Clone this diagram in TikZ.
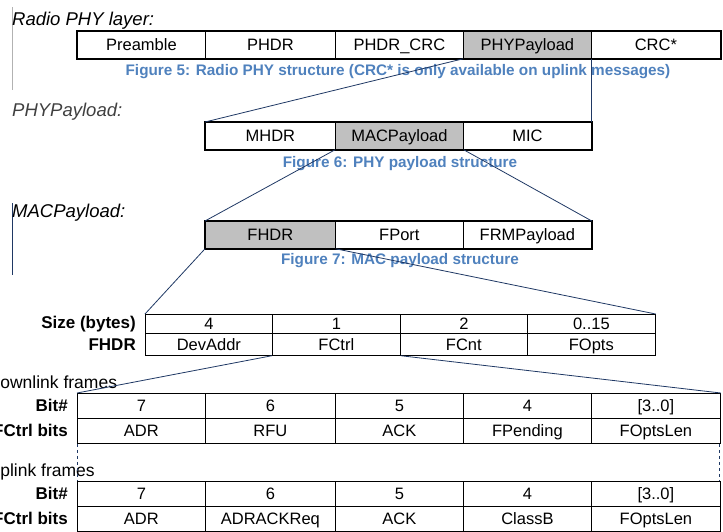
\documentclass[tikz,border=0pt]{standalone}
\usepackage{fontspec}
\setmainfont{Liberation Sans}
\definecolor{cellgray}{RGB}{192,192,192}
\definecolor{capblue}{RGB}{79,129,189}
\definecolor{connblue}{RGB}{31,56,100}
\begin{document}
\begin{tikzpicture}[x=1pt,y=-1pt,
  cellA/.style={draw=black, line width=0.8pt, inner sep=0pt, anchor=north west, minimum height=27pt, text height=11.8pt, text depth=0pt, font=\fontsize{16.5}{16.5}\selectfont},
  cellB/.style={draw=black, line width=0.7pt, inner sep=0pt, anchor=north west, text height=11.8pt, text depth=0pt, font=\fontsize{16.5}{16.5}\selectfont},
  shaded/.style={fill=cellgray},
  outer/.style={draw=black, line width=2.4pt},
  caption/.style={text=capblue, text height=11pt, text depth=0pt, font=\bfseries\fontsize{15.3}{15.3}\selectfont, inner sep=0pt},
  layerlabel/.style={font=\itshape\fontsize{18.5}{18.5}\selectfont, text height=13.3pt, text depth=0pt, inner sep=0pt, anchor=west},
  rowlabel/.style={font=\bfseries\fontsize{17}{17}\selectfont, text height=12.2pt, text depth=0pt, inner sep=0pt, anchor=east},
  framelabel/.style={font=\fontsize{17.5}{17.5}\selectfont, inner sep=0pt, anchor=base west},
  conn/.style={draw=connblue, line width=0.8pt},
  sideline/.style={draw=connblue, line width=0.6pt},
  dashline/.style={draw=connblue, line width=0.8pt, dashed}]
\useasboundingbox (0,0) rectangle (723,531);
\clip (0,0) rectangle (723,531);

% --- Radio PHY layer
\draw[sideline, draw=gray!60] (12,7) -- (12,90);
\node[layerlabel] (lblradio) at (12,18.5) {Radio PHY layer:};
\node[cellA, minimum width=128pt] (pre) at (77,31) {Preamble};
\node[cellA, minimum width=130pt] (phdr) at (205,31) {PHDR};
\node[cellA, minimum width=128pt] (phdrcrc) at (335,31) {PHDR\_CRC};
\node[cellA, shaded, minimum width=128pt] (phypl) at (463,31) {PHYPayload};
\node[cellA, minimum width=129pt] (crc) at (591,31) {CRC*};
\draw[outer] (pre.north west) rectangle (crc.south east);
\node[caption] (cap5) at (398,69.5) {Figure 5: Radio PHY structure (CRC* is only available on uplink messages)};

% --- PHY payload
\node[layerlabel, text=black!75] (lblphy) at (12,110) {PHYPayload:};
\node[cellA, minimum width=130pt] (mhdr) at (205,122) {MHDR};
\node[cellA, shaded, minimum width=128pt] (macpl) at (335,122) {MACPayload};
\node[cellA, minimum width=128pt] (mic) at (463,122) {MIC};
\draw[outer] (mhdr.north west) rectangle (mic.south east);
\node[caption] (cap6) at (400,162) {Figure 6: PHY payload structure};

% --- MAC payload
\draw[sideline] (12,203) -- (12,275);
\node[layerlabel] (lblmac) at (12,211) {MACPayload:};
\node[cellA, shaded, minimum width=130pt] (fhdr) at (205,221) {FHDR};
\node[cellA, minimum width=128pt] (fport) at (335,221) {FPort};
\node[cellA, minimum width=128pt] (frm) at (463,221) {FRMPayload};
\draw[outer] (fhdr.north west) rectangle (frm.south east);
\node[caption] (cap7) at (400,259) {Figure 7: MAC payload structure};

% --- FHDR table
\node[rowlabel] (lblsize) at (136,322.5) {Size (bytes)};
\node[rowlabel] (lblfhdr) at (136,344.5) {FHDR};
\node[cellB, minimum width=127pt, minimum height=19pt] (s1) at (145,314) {4};
\node[cellB, minimum width=128pt, minimum height=19pt] (s2) at (272,314) {1};
\node[cellB, minimum width=127pt, minimum height=19pt] (s3) at (400,314) {2};
\node[cellB, minimum width=128pt, minimum height=19pt] (s4) at (527,314) {0..15};
\node[cellB, minimum width=127pt, minimum height=22pt] (devaddr) at (145,333) {DevAddr};
\node[cellB, minimum width=128pt, minimum height=22pt] (fctrl) at (272,333) {FCtrl};
\node[cellB, minimum width=127pt, minimum height=22pt] (fcnt) at (400,333) {FCnt};
\node[cellB, minimum width=128pt, minimum height=22pt] (fopts) at (527,333) {FOpts};

% --- Downlink FCtrl
\node[framelabel] (lbldown) at (-12.5,388) {Downlink frames};
\node[rowlabel] (lblbitd) at (68,405.5) {Bit\#};
\node[rowlabel] (lblfcd) at (68,430.5) {FCtrl bits};
\begin{scope}[every node/.style={cellA, minimum height=25pt}]
\node[minimum width=128pt] (d7) at (77,393) {7};
\node[minimum width=130pt] (d6) at (205,393) {6};
\node[minimum width=128pt] (d5) at (335,393) {5};
\node[minimum width=128pt] (d4) at (463,393) {4};
\node[minimum width=129pt] (d3) at (591,393) {[3..0]};
\node[minimum width=128pt] (dadr) at (77,418) {ADR};
\node[minimum width=130pt] (drfu) at (205,418) {RFU};
\node[minimum width=128pt] (dack) at (335,418) {ACK};
\node[minimum width=128pt] (dfp) at (463,418) {FPending};
\node[minimum width=129pt] (dfol) at (591,418) {FOptsLen};
\end{scope}

% --- Uplink FCtrl
\node[framelabel] (lblup) at (-12.5,476) {Uplink frames};
\node[rowlabel] (lblbitu) at (68,493.5) {Bit\#};
\node[rowlabel] (lblfcu) at (68,518.5) {FCtrl bits};
\begin{scope}[every node/.style={cellA, minimum height=25pt}]
\node[minimum width=128pt] (u7) at (77,481) {7};
\node[minimum width=130pt] (u6) at (205,481) {6};
\node[minimum width=128pt] (u5) at (335,481) {5};
\node[minimum width=128pt] (u4) at (463,481) {4};
\node[minimum width=129pt] (u3) at (591,481) {[3..0]};
\node[minimum width=128pt] (uadr) at (77,506) {ADR};
\node[minimum width=130pt] (uadrack) at (205,506) {ADRACKReq};
\node[minimum width=128pt] (uack) at (335,506) {ACK};
\node[minimum width=128pt] (ucb) at (463,506) {ClassB};
\node[minimum width=129pt] (ufol) at (591,506) {FOptsLen};
\end{scope}

% --- dashed separators
\draw[dashline] (dadr.south west) -- (u7.north west);
\draw[dashline] ([xshift=-1pt]dfol.south east) -- ([xshift=-1pt]u3.north east);

% --- connectors
\draw[conn] (phypl.south west) -- (mhdr.north west);
\draw[conn] (phypl.south east) -- (mic.north east);
\draw[conn] (macpl.south west) -- (fhdr.north west);
\draw[conn] (macpl.south east) -- (frm.north east);
\draw[conn] (fhdr.south west) -- (s1.north west);
\draw[conn] (fhdr.south east) -- (s4.north east);
\draw[conn] (fctrl.south west) -- (d7.north west);
\draw[conn] (fctrl.south east) -- (d3.north east);
\end{tikzpicture}
\end{document}
